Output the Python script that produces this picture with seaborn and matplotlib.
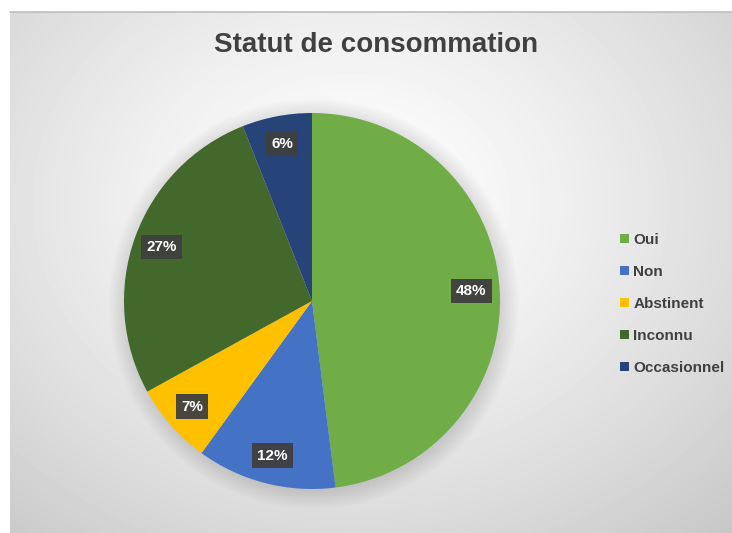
import numpy as np
import seaborn as sns
import matplotlib.pyplot as plt

# chart data
categories = ['Oui', 'Non', 'Abstinent', 'Inconnu', 'Occasionnel']
shares = [48, 12, 7, 27, 6]
colors = ['#70AD47', '#4472C4', '#FFC000', '#43682B', '#264478']
title = 'Statut de consommation'

sns.set_theme(style='white')
plt.rcParams['font.family'] = ['Liberation Sans', 'DejaVu Sans']

W, H = 732, 533
fig = plt.figure(figsize=(W / 100, H / 100), dpi=100)
fig.patch.set_facecolor('white')

# background panel with a soft radial gradient
bg = fig.add_axes([10 / W, 0, (W - 10) / W, (H - 12) / H])
yy, xx = np.mgrid[0:521, 0:722]
d = np.sqrt(((xx - 340) / 520.0) ** 2 + ((yy - 190) / 420.0) ** 2)
g = 1.0 - 0.2 * d ** 1.3
bg.imshow(g, cmap='gray', vmin=0, vmax=1, aspect='auto', interpolation='bilinear')
bg.set_axis_off()
fig.add_artist(plt.Line2D([10 / W, 1], [(H - 12) / H] * 2, color='#bdbdbd', lw=1.2))

# pie
cx, cy, r = 312, 301, 188
ax = fig.add_axes([(cx - r) / W, (H - cy - r) / H, 2 * r / W, 2 * r / H])
ax.set_axis_off()

# soft shadow under the pie
for k in range(10):
    ax.add_patch(plt.Circle((0.01, -0.015), 1.0 + 0.01 * k, color='black',
                            alpha=0.012, lw=0, zorder=0, clip_on=False))

palette = sns.color_palette(colors)
wedges, texts, autotexts = ax.pie(
    shares, colors=palette, startangle=90, counterclock=False, radius=1,
    autopct='%1.0f%%', pctdistance=0.85,
    wedgeprops=dict(linewidth=0),
    textprops=dict(color='white', fontsize=11, fontweight='bold'))
for t in autotexts:
    t.set_bbox(dict(boxstyle='square,pad=0.35', facecolor='#3f3f3f',
                    edgecolor='none', alpha=0.95))
    t.set_zorder(5)

ax.set_xlim(-1, 1)
ax.set_ylim(-1, 1)

fig.text(376 / W, 1 - 45 / H, title, ha='center', va='center',
         fontsize=20, fontweight='bold', color='#404040')

fig.legend(wedges, categories, loc='upper left',
           bbox_to_anchor=(606 / W, 1 - 219 / H), frameon=False,
           handlelength=0.6, handleheight=0.6, handletextpad=0.3,
           labelspacing=1.18, prop=dict(size=11, weight='bold'),
           labelcolor='#404040')

fig.savefig('out.png', dpi=100)
